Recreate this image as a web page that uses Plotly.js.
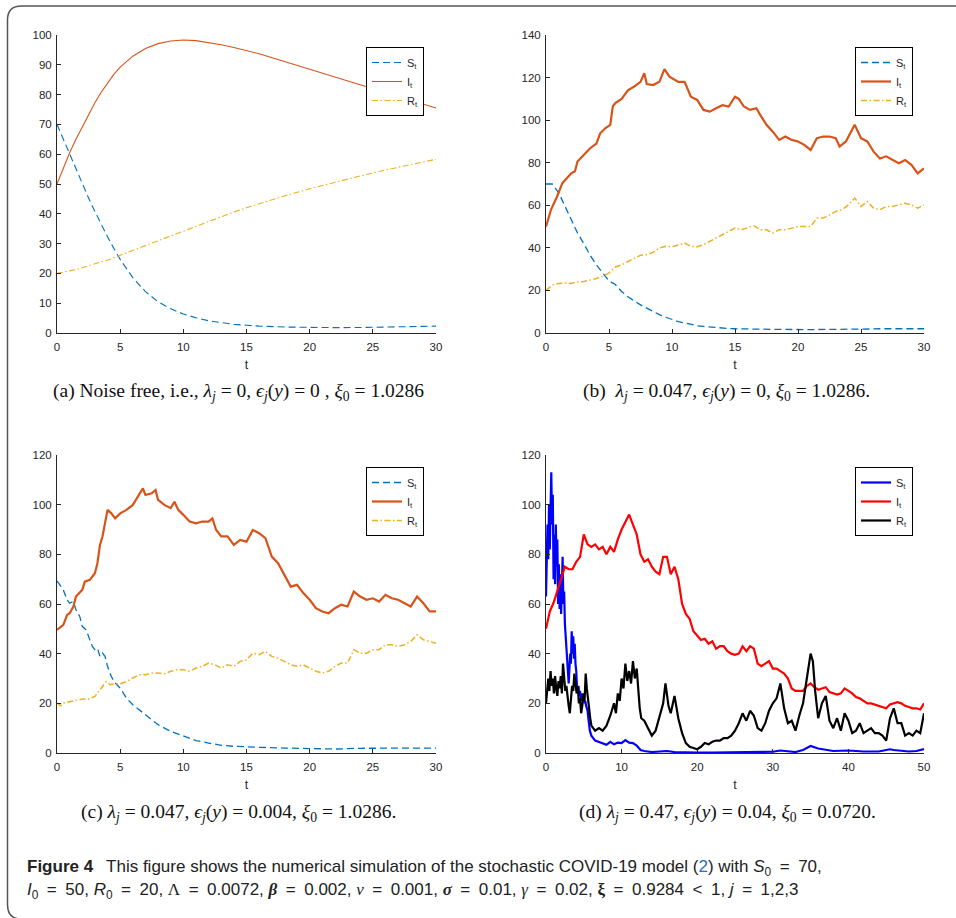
<!DOCTYPE html>
<html>
<head>
<meta charset="utf-8">
<script src="https://cdn.plot.ly/plotly-3.0.1.min.js"></script>
<style>
html,body{margin:0;padding:0;background:#fff;}
#chart{width:956px;height:918px;}
</style>
</head>
<body>
<div id="chart"></div>
<script>
// ---------- Panel (a): noise free ----------
const tA = [0,0.5,1,1.5,2,2.5,3,3.5,4,4.5,5,6,7,8,9,10,11,12,13,14,15,16,18,20,22,24,26,28,30];
const sA = [70,65,60,55,50,45.3,40.8,36.4,32.3,28.4,24.7,18.6,13.9,10.5,8.1,6.4,5.1,4.1,3.4,2.9,2.6,2.3,2.0,1.85,1.8,1.85,1.95,2.1,2.3];
const iA = [50,55.3,60.5,65,69.2,73.5,77.3,80.8,84,86.8,89.2,92.9,95.5,97.1,98,98.3,98.1,97.5,96.7,95.8,94.8,93.7,91.1,88.5,85.9,83.3,80.7,78.1,75.5];
const rA = [20,20.4,20.8,21.3,21.9,22.5,23.2,23.8,24.5,25.3,26.1,27.7,29.3,31,32.6,34.2,35.9,37.5,39.1,40.6,42,43.4,46,48.4,50.6,52.7,54.7,56.6,58.3];

// ---------- Panel (b) ----------
const tB = [0,0.5,1,1.5,2,2.5,3,3.5,4,4.5,5,5.5,6,6.5,7,7.5,8,8.5,9,9.5,10,10.5,11,11.5,12,12.5,13,13.5,14,14.5,15,15.5,16,16.5,17,17.5,18,18.5,19,19.5,20,20.5,21,21.5,22,22.5,23,23.5,24,24.5,25,25.5,26,26.5,27,27.5,28,28.5,29,29.5,30];
const sB = [70,70,66,59.5,53,47,42,36.5,32,28,24.5,22.8,19.5,17,15,13.2,11.7,10.1,8.6,7.4,6.3,5.4,4.7,4,3.4,3.1,2.8,2.5,2.3,2.1,2.0,1.9,1.9,1.8,1.8,1.7,1.7,1.7,1.6,1.6,1.6,1.6,1.6,1.6,1.7,1.7,1.7,1.8,1.8,1.9,1.9,1.9,1.9,2,2,2,2,2,2,2,2];
const rB = [20,22.5,23.3,23.5,23.3,24,24.2,24.8,25.6,26.6,28.2,31,32,33.6,35.2,36.5,36.8,37.9,39.9,40.7,40.5,41.5,42.2,40.7,40.5,41.5,43,44.6,46.1,47.7,49.3,48.5,49.3,50.4,48.5,48.5,46.9,48.5,48.5,49.3,50,50,50,54,54,55.5,57.1,57.9,60.2,63.4,59.4,61.8,58.7,57.9,59.4,59.4,60.2,61,60.2,58.7,60.2];
const tBI = [0,0.4,0.87,1.3,2,2.3,2.5,3,3.5,4,4.3,4.7,5.1,5.3,5.5,6,6.5,7,7.5,7.8,8,8.5,9,9.4,9.8,10.5,11,11.5,12,12.5,13,13.5,14,14.5,15,15.3,15.7,16.2,16.7,17,17.5,18,18.5,19,19.5,20,20.5,21,21.5,22,22.5,23,23.3,23.8,24.2,24.5,25,25.5,26,26.5,27,27.5,28,28.5,29,29.5,30];
const iB = [50,58,64,70.4,75,76,80.6,83.7,86.8,89,93.8,96.2,97.8,106.4,108,110,114,115.8,118,122,117,116.5,118,124,120.4,118,118,111,109.5,104.8,104,105.6,107,106.4,111,110,106.4,104.8,105.6,102.5,97.8,94.6,90.7,92.3,90.7,90,88.4,86,91.5,92.3,92.3,91.5,87.6,90,94.6,97.8,91.5,90,85.2,82,83,81.3,79.8,81.3,79,75,77.4];

// ---------- Panel (c) ----------
const tCS = [0,0.3,0.5,0.8,1,1.3,1.5,1.8,2,2.3,2.5,2.8,3,3.2,3.4,3.6,3.8,4,4.3,4.6,5,5.5,6,6.5,7,7.5,8,9,10,11,12,13,14,15,16,18,20,22,24,26,28,30];
const sC = [69.3,67,65.7,61.7,60.3,61,57.7,55,51,49.6,46.9,42.9,41.6,42.2,38.9,40.2,38.9,34.9,30.8,28.2,26.1,22.1,19.4,17.4,15.4,13.4,11.4,8.7,6.7,5,4,3.1,2.7,2.4,2.3,2,1.7,1.6,1.9,1.9,2,2];
const tCI = [0,0.5,0.8,1,1.3,1.5,2,2.2,2.6,3,3.2,3.4,3.6,3.8,4,4.3,4.6,5,5.5,6,6.5,6.8,7,7.5,7.8,8,8.5,9,9.3,9.6,10,10.5,11,11.5,12,12.3,12.6,13,13.5,14,14.5,15,15.5,16,16.5,17,17.5,18,18.5,19,19.5,20,20.5,21,21.5,22,22.5,23,23.5,24,24.5,25,25.5,26,26.5,27,27.5,28,28.5,29,29.5,30];
const iC = [49.6,51.6,55.6,56.3,59,63,65.7,69,69.7,72.4,76.4,83.8,87.2,93.2,97.9,96.5,94.5,96.5,97.9,99.9,103.9,106.6,103.9,104.6,105.9,101.9,99.9,98.6,101.2,97.9,95.9,93.2,92.5,93.2,93.2,94.5,89.8,87.2,87.2,83.8,85.8,85.1,89.8,88.5,86.5,79.1,76.4,71.7,67,67.7,64.4,61.7,58.3,57,56.3,58.3,59.7,59,65,63,61.7,62.3,61,63.7,62.3,61.7,60.3,59,63,60.3,57,57];
const tCR = [0,0.3,0.5,1,1.5,2,2.5,3,3.5,3.9,4.2,4.5,5,5.5,6,6.5,7,7.5,8,8.5,9,9.5,10,10.5,11,11.5,12,12.5,13,13.5,14,14.5,15,15.5,16,16.5,17,17.5,18,18.5,19,19.5,20,20.5,21,21.5,22,22.5,23,23.5,24,24.5,25,25.5,26,26.5,27,27.5,28,28.5,29,29.5,30];
const rC = [20.1,19,20.1,20.8,21.2,21.7,21.7,22.8,26.1,28.8,27.5,27.8,27.9,28.8,30.2,31.5,31.5,32.2,32.2,31.9,32.9,33.5,33.5,32.9,34.2,34.9,36.2,35.5,34.2,35.5,34.9,36.9,37.5,40.2,39.6,40.9,38.9,38.2,36.9,35.5,34.9,35.5,34.2,32.9,32.2,32.9,34.9,36.2,36.2,41.6,40.2,40.2,41.6,41.6,43.6,43.6,42.9,43.6,44.9,47.6,45.6,44.9,44.2];

// ---------- Panel (d) ----------
const tDS = [0,0.1,0.2,0.3,0.4,0.5,0.6,0.7,0.8,0.9,1.0,1.1,1.2,1.3,1.4,1.5,1.6,1.7,1.8,1.9,2.0,2.1,2.2,2.3,2.4,2.5,2.6,2.7,2.8,2.9,3.0,3.1,3.2,3.3,3.4,3.5,3.6,3.7,3.8,3.9,4.0,4.1,4.2,4.3,4.4,4.5,4.6,4.7,4.8,4.9,5.0,5.1,5.2,5.3,5.4,5.5,5.6,5.7,5.8,5.9,6.0,6.5,7,7.5,8,8.5,9,9.5,10,10.5,11,11.5,12,12.5,13,14,15,16,17,18,20,22,24,26,28,30,31,32,33,34,35,36,37,38,40,42,44,45.5,46,47,48,49,50];
const sD = [63,85,92,78,100,82,108,113,92,104,70,88,68,92,75,86,60,76,58,72,56,66,79,60,65,52,46,40,35,31,28,34,40,36,49,40,47,38,44,36,33,27,24,27,23,25,21,24,21,22,22,20,21,19,18,17,14,11,9,8,7,5,4.5,4,3.3,4.5,3.5,4.2,4,5.2,4.2,4,3,1.2,0.8,0.4,0.5,0.8,0.4,0.3,0.2,0.2,0.2,0.3,0.4,0.5,1,0.6,0.4,1.2,2.8,1.8,1.2,0.8,1,0.6,0.6,1.5,1.2,0.8,0.6,0.8,1.6];
const tDI = [0,0.5,1,1.5,2,2.5,3,3.5,4,4.5,5,5.5,6,6.5,7,7.5,8,8.5,9,9.5,10,10.5,11,11.5,12,12.5,13,13.5,14,14.5,15,15.5,16,16.5,17,17.5,18,18.5,19,19.5,20,20.5,21,21.5,22,22.5,23,23.5,24,24.5,25,25.5,26,26.5,27,27.5,28,28.5,29,29.5,30,30.5,31,31.5,32,32.5,33,33.5,34,34.5,35,35.5,36,36.5,37,37.5,38,38.5,39,39.5,40,40.5,41,41.5,42,42.5,43,43.5,44,44.5,45,45.5,46,46.5,47,47.5,48,48.5,49,49.5,50];
const iD = [50,57,60.5,65,70,75,74,74,77,79,88,84,83,84,82,83,80,83,81,86,90,93,96,92,88,80,77,78,75,73,72,79,79,72,75,70,60,56,54,49,47,45.5,46,44,45,42,43,43,41,40,39.5,40,43,41,43,42,36,35,36,37,34,34,33,32,30,26,25,25,25,27,28,26.5,25.5,26,26.5,24.5,24,23.5,24,26,25,24,22.5,22,21,20,20,19.5,19.3,18.5,18,19.5,20,20.5,20,19,18.5,18,18,17.5,20];
const tDR = [0,0.15,0.3,0.45,0.6,0.75,0.9,1.05,1.2,1.35,1.5,1.65,1.8,1.95,2.1,2.25,2.4,2.55,2.7,2.85,3.0,3.15,3.3,3.45,3.6,3.75,3.9,4.05,4.2,4.35,4.5,4.65,4.8,4.95,5.1,5.25,5.4,5.55,5.7,5.85,6.0,6.5,7,7.5,8,8.5,9,9.25,9.5,9.75,10,10.25,10.5,10.75,11,11.25,11.5,11.75,12,12.2,12.4,12.6,13,13.5,14,14.5,15,15.5,15.8,16.2,16.5,17,17.5,18,18.5,19,19.5,20,20.5,21,21.5,22,22.5,23,23.5,24,24.5,25,25.5,26,26.5,27,27.5,28,28.5,29,29.5,30,30.5,31,31.5,32,32.5,33,33.5,34,34.5,35,35.3,35.6,36,36.5,37,37.5,38,38.5,39,39.5,40,40.5,41,41.5,42,42.5,43,43.5,44,44.5,45,45.5,46,46.5,47,47.5,48,48.5,49,49.5,50];
const rD = [20,27,30,25,33,27,30,24,31,26,23,29,26,31,24,36,30,25,27,21,19,16,22,27,25,32,28,24,27,20,22,16,19,24,21,32,26,21,18,14,11,9,10,9,11,15,20,16,24,21,30,26,36,29,33,28,37,30,34,24,18,14,13,10,7,9,15,20,28,19,16,23,14,8,4,2.5,2,1.5,2.5,4,3.5,4.5,5,5,6,6,7,9,12,16,13,17,15,10,9,12,17,20,22,28,18,12,13,9,15,20,30,40,37,25,14,20,23,13,10,14,9,16,13,8,9,12,8,9,10,8,8,7,5,14,18,12,12,7,8,7,9,8,16];

// ---------- Text ----------
const seriesNames = ['S<sub>t</sub>', 'I<sub>t</sub>', 'R<sub>t</sub>'];
const captions = [
  '(a) Noise free, i.e., <i>λ<sub>j</sub></i> = 0, <i>ϵ<sub>j</sub></i>(<i>y</i>) = 0 , <i>ξ</i><sub>0</sub> = 1.0286',
  '(b)\u2002<i>λ<sub>j</sub></i> = 0.047, <i>ϵ<sub>j</sub></i>(<i>y</i>) = 0, <i>ξ</i><sub>0</sub> = 1.0286.',
  '(c) <i>λ<sub>j</sub></i> = 0.047, <i>ϵ<sub>j</sub></i>(<i>y</i>) = 0.004, <i>ξ</i><sub>0</sub> = 1.0286.',
  '(d) <i>λ<sub>j</sub></i> = 0.47, <i>ϵ<sub>j</sub></i>(<i>y</i>) = 0.04, <i>ξ</i><sub>0</sub> = 0.0720.'
];
const G = 'font-family:Liberation Serif';
const E = '\u2002';
const figLine1 = '<b>Figure 4</b>\u2002 This figure shows the numerical simulation of the stochastic COVID-19 model (<span style="color:#2b6cc4">2</span>) with <i>S</i><sub>0</sub>' + E + '=' + E + '70,';
const figLine2 = '<i>I</i><sub>0</sub>' + E + '=' + E + '50, <i>R</i><sub>0</sub>' + E + '=' + E + '20, <span style="' + G + '">Λ</span>' + E + '=' + E + '0.0072, <b><i><span style="' + G + '">β</span></i></b>' + E + '=' + E + '0.002, <i><span style="' + G + '">ν</span></i>' + E + '=' + E + '0.001, <b><i><span style="' + G + '">σ</span></i></b>' + E + '=' + E + '0.01, <i><span style="' + G + '">γ</span></i>' + E + '=' + E + '0.02, <b><span style="' + G + '">ξ</span></b>' + E + '=' + E + '0.9284' + E + '&lt;' + E + '1, <i>j</i>' + E + '=' + E + '1,2,3';

// sanity checks
[[tA,sA],[tA,iA],[tA,rA],[tB,sB],[tB,rB],[tBI,iB],[tCS,sC],[tCI,iC],[tCR,rC],[tDS,sD],[tDI,iD],[tDR,rD]].forEach(function(p,k){
  if (p[0].length !== p[1].length) throw new Error('length mismatch in pair ' + k + ': ' + p[0].length + ' vs ' + p[1].length);
});

const C_S = '#0072BD', C_I = '#D95319', C_R = '#EDB120';
const W = 956, H = 918;
const px = function(v){ return v / W; };
const py = function(v){ return 1 - v / H; };
const DASH_S = '7px,4px';
const DASH_R = '6px,2.5px,1.5px,2.5px';

function tr(x, y, name, color, width, dash, n, legendName) {
  return {
    x: x, y: y, type: 'scatter', mode: 'lines', name: name,
    line: {color: color, width: width, dash: dash},
    xaxis: 'x' + (n === 1 ? '' : n), yaxis: 'y' + (n === 1 ? '' : n),
    legend: legendName, hoverinfo: 'skip'
  };
}

const data = [
  tr(tA, sA, seriesNames[0], C_S, 1.1, DASH_S, 1, 'legend'),
  tr(tA, iA, seriesNames[1], C_I, 1.1, 'solid', 1, 'legend'),
  tr(tA, rA, seriesNames[2], C_R, 1.1, DASH_R, 1, 'legend'),
  tr(tB, sB, seriesNames[0], C_S, 1.3, DASH_S, 2, 'legend2'),
  tr(tBI, iB, seriesNames[1], C_I, 2.2, 'solid', 2, 'legend2'),
  tr(tB, rB, seriesNames[2], C_R, 1.5, DASH_R, 2, 'legend2'),
  tr(tCS, sC, seriesNames[0], C_S, 1.3, DASH_S, 3, 'legend3'),
  tr(tCI, iC, seriesNames[1], C_I, 2.2, 'solid', 3, 'legend3'),
  tr(tCR, rC, seriesNames[2], C_R, 1.5, DASH_R, 3, 'legend3'),
  tr(tDS, sD, seriesNames[0], '#0000FF', 2.2, 'solid', 4, 'legend4'),
  tr(tDI, iD, seriesNames[1], '#FF0000', 2.2, 'solid', 4, 'legend4'),
  tr(tDR, rD, seriesNames[2], '#000000', 2.2, 'solid', 4, 'legend4')
];

const axisFont = {family: 'Liberation Sans, Arial, sans-serif', size: 11.5, color: '#262626'};
function xax(domain, range, dtick, anchor) {
  return {
    domain: domain, range: range, dtick: dtick, tick0: 0, anchor: anchor,
    showline: true, linecolor: '#262626', linewidth: 1, mirror: false,
    ticks: 'inside', ticklen: 4, tickwidth: 1, tickcolor: '#262626',
    showgrid: false, zeroline: false, tickfont: axisFont, ticklabelstandoff: 3,
    title: {text: 't', font: {family: 'Liberation Sans, Arial, sans-serif', size: 12.5, color: '#262626'}, standoff: 8},
    fixedrange: true
  };
}
function yax(domain, range, dtick, anchor) {
  return {
    domain: domain, range: range, dtick: dtick, tick0: 0, anchor: anchor,
    showline: true, linecolor: '#262626', linewidth: 1, mirror: false,
    ticks: 'inside', ticklen: 4, tickwidth: 1, tickcolor: '#262626',
    showgrid: false, zeroline: false, tickfont: axisFont, ticklabelstandoff: 2,
    fixedrange: true
  };
}
function leg(xr, ytop) {
  return {
    x: px(xr), xanchor: 'right', y: py(ytop), yanchor: 'top',
    bgcolor: '#ffffff', bordercolor: '#000000', borderwidth: 1,
    font: {family: 'Liberation Sans, Arial, sans-serif', size: 11, color: '#262626'},
    itemwidth: 30, tracegroupgap: 0
  };
}

const xL = [px(57), px(436)], xR = [px(546), px(924)];
const yT = [py(333), py(35)], yB = [py(753), py(455)];

function cap(text, cx, cy) {
  return {
    text: text, xref: 'paper', yref: 'paper', x: px(cx), y: py(cy),
    xanchor: 'center', yanchor: 'middle', showarrow: false,
    font: {family: 'Liberation Serif, Times New Roman, serif', size: 19.5, color: '#111111'}
  };
}
const figFont = {family: 'Liberation Sans, Arial, sans-serif', size: 17, color: '#222222'};

const layout = {
  width: W, height: H,
  margin: {l: 0, r: 0, t: 0, b: 0},
  paper_bgcolor: '#ffffff', plot_bgcolor: 'rgba(0,0,0,0)',
  showlegend: true,
  xaxis: xax(xL, [0, 30], 5, 'y'),
  yaxis: yax(yT, [0, 100], 10, 'x'),
  xaxis2: xax(xR, [0, 30], 5, 'y2'),
  yaxis2: yax(yT, [0, 140], 20, 'x2'),
  xaxis3: xax(xL, [0, 30], 5, 'y3'),
  yaxis3: yax(yB, [0, 120], 20, 'x3'),
  xaxis4: xax(xR, [0, 50], 10, 'y4'),
  yaxis4: yax(yB, [0, 120], 20, 'x4'),
  legend: leg(424, 47),
  legend2: leg(913, 47),
  legend3: leg(424, 467),
  legend4: leg(913, 467),
  annotations: [
    cap(captions[0], 238, 392),
    cap(captions[1], 726, 392),
    cap(captions[2], 238, 813),
    cap(captions[3], 727, 813),
    {text: figLine1, xref: 'paper', yref: 'paper', x: px(25), y: py(868), xanchor: 'left', yanchor: 'middle', showarrow: false, align: 'left', font: figFont},
    {text: figLine2, xref: 'paper', yref: 'paper', x: px(25), y: py(891), xanchor: 'left', yanchor: 'middle', showarrow: false, align: 'left', font: figFont}
  ],
  shapes: [
    {type: 'path', xref: 'paper', yref: 'paper', layer: 'below',
     path: 'M 1.01 ' + py(6) + ' L ' + px(21.5) + ' ' + py(6) + ' Q ' + px(7.5) + ' ' + py(6) + ' ' + px(7.5) + ' ' + py(20) +
           ' L ' + px(7.5) + ' ' + py(905) + ' Q ' + px(7.5) + ' ' + py(919) + ' ' + px(21.5) + ' ' + py(919),
     line: {color: '#555555', width: 1.5}}
  ]
};

Plotly.newPlot('chart', data, layout, {staticPlot: true, displayModeBar: false});
</script>
</body>
</html>
